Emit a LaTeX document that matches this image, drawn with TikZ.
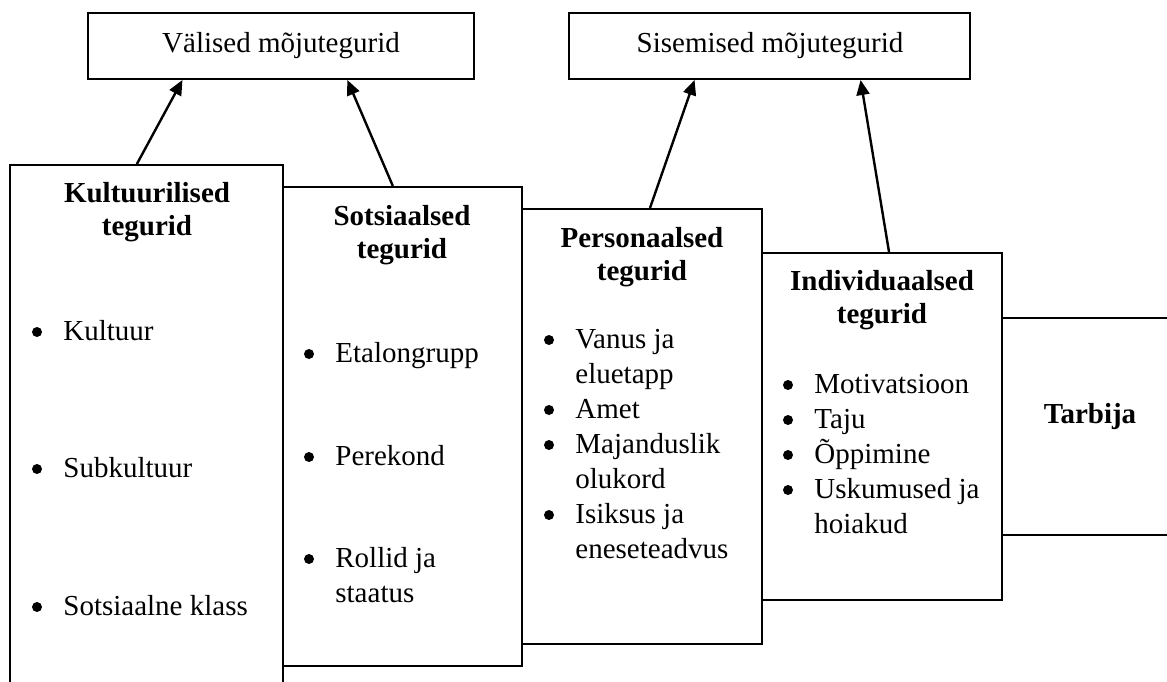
\documentclass[tikz,border=0pt]{standalone}
\usepackage{fontspec}
\setmainfont{Liberation Serif}
\usetikzlibrary{arrows.meta,calc,fit}
\tikzset{
	,font = \fontsize{14.5}{17.5}\selectfont
	,box/.style   = {draw=black, line width=1pt, inner sep=0pt, rectangle}
	,head/.style  = {anchor=base, inner sep=0pt}
	,title/.style = {font=\fontsize{14.5}{16.5}\selectfont\bfseries, align=center, anchor=base, inner sep=0pt}
	,itm/.style   = {anchor=base west, align=left, inner sep=0pt}
	,arr/.style   = {-{Triangle[length=7.5pt, width=6.5pt]}, line width=1.2pt}
}
\begin{document}
\begin{tikzpicture}[x=0.5pt, y=-0.5pt]
		\fill[white] (0,0) rectangle (1167,681);
		\useasboundingbox (0,0) rectangle (1167,681);
		\clip (0,0) rectangle (1167,681);
		% top boxes
		\node[box, fit={(88,13) (474,79)}]  (valis) {};
		\node[box, fit={(569,13) (970,79)}] (sisem) {};
		\node[head] (valisT) at (281,52) {V\"alised m\~ojutegurid};
		\node[head] (sisemT) at (770,52) {Sisemised m\~ojutegurid};
		% factor boxes
		\node[box, fit={(10,165) (283,700)}]   (kult)  {};
		\node[box, fit={(283,187) (522,666)}]  (sots)  {};
		\node[box, fit={(522,209) (762,644)}]  (pers)  {};
		\node[box, fit={(762,253) (1002,600)}] (indiv) {};
		\node[box, fit={(1002,318) (1190,535)}] (tarb) {};
		% titles (base = last line)
		\node[title] (kultT)  at (147,235)  {Kultuurilised\\tegurid};
		\node[title] (sotsT)  at (402,258)  {Sotsiaalsed\\tegurid};
		\node[title] (persT)  at (642,280)  {Personaalsed\\tegurid};
		\node[title] (indivT) at (882,323)  {Individuaalsed\\tegurid};
		\node[title] (tarbT)  at (1090,423) {Tarbija};
		% bullets: first baseline / lines / text
		\foreach \yy/\nl/\txt [count=\i] in {340/1/Kultuur, 477/1/Subkultuur, 615/1/Sotsiaalne klass} {
			\fill (37,\yy-8) circle (5);
			\node[itm] (kult\i) at (63,\yy+35*\nl-35) {\txt};
		}
		\foreach \yy/\nl/\txt [count=\i] in {362/1/Etalongrupp, 465/1/Perekond, 567/2/{Rollid ja\\staatus}} {
			\fill (309,\yy-8) circle (5);
			\node[itm] (sots\i) at (335,\yy+35*\nl-35) {\txt};
		}
		\foreach \yy/\nl/\txt [count=\i] in {348/2/{Vanus ja\\eluetapp}, 418/1/Amet, 453/2/{Majanduslik\\olukord}, 523/2/{Isiksus ja\\eneseteadvus}} {
			\fill (549,\yy-8) circle (5);
			\node[itm] (pers\i) at (575,\yy+35*\nl-35) {\txt};
		}
		\foreach \yy/\nl/\txt [count=\i] in {393/1/Motivatsioon, 428/1/Taju, 463/1/\~Oppimine, 498/2/{Uskumused ja\\hoiakud}} {
			\fill (788,\yy-8) circle (5);
			\node[itm] (indiv\i) at (814,\yy+35*\nl-35) {\txt};
		}
		% arrows
		\draw[arr] ($(kult.north west)!0.465!(kult.north east)$)   -- ($(valis.south west)!0.246!(valis.south east)$);
		\draw[arr] ($(sots.north west)!0.46!(sots.north east)$)    -- ($(valis.south west)!0.671!(valis.south east)$);
		\draw[arr] ($(pers.north west)!0.533!(pers.north east)$)   -- ($(sisem.south west)!0.314!(sisem.south east)$);
		\draw[arr] ($(indiv.north west)!0.529!(indiv.north east)$) -- ($(sisem.south west)!0.726!(sisem.south east)$);
	\end{tikzpicture}
\end{document}
